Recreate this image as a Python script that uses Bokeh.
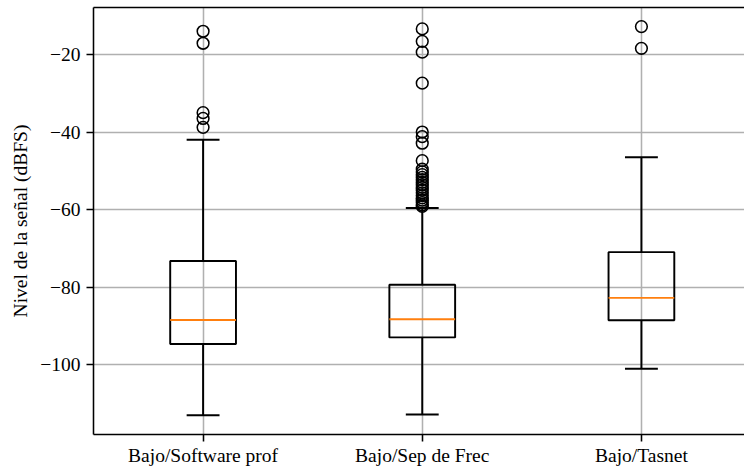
from bokeh.plotting import figure
from bokeh.models import ColumnDataSource, FixedTicker, LinearAxis, Range1d
from bokeh.embed import file_html
from bokeh.resources import INLINE

# ---- data ----
categories = ["Bajo/Software prof", "Bajo/Sep de Frec", "Bajo/Tasnet"]
q1 = [-94.7, -93.0, -88.6]
median = [-88.5, -88.3, -82.8]
q3 = [-73.3, -79.4, -71.0]
whisker_low = [-113.1, -112.9, -101.1]
whisker_high = [-42.0, -59.6, -46.5]
outliers = [
    [-14.0, -17.1, -35.0, -36.5, -38.8],
    [-13.4, -16.6, -19.4, -27.4, -40.0, -41.2, -42.9, -47.4,
     -49.6, -50.3, -51.0, -51.7, -52.3, -53.0, -53.6, -54.3,
     -55.0, -55.7, -56.4, -57.0, -57.6, -58.2, -58.8, -59.2],
    [-12.8, -18.4],
]
y_ticks = [-100, -80, -60, -40, -20]
y_tick_labels = ["\u2212100", "\u221280", "\u221260", "\u221240", "\u221220"]
y_label = "Nivel de la señal (dBFS)"

FONT = "Liberation Serif"
FS = "19.5px"
LW = 1.55
BOX_W = 0.3
CAP_W = 0.15

pos = [i + 1 for i in range(len(categories))]
src = ColumnDataSource(dict(
    pos=pos,
    left=[x - BOX_W / 2 for x in pos],
    right=[x + BOX_W / 2 for x in pos],
    cl=[x - CAP_W / 2 for x in pos],
    cr=[x + CAP_W / 2 for x in pos],
    q1=q1, q3=q3, med=median, lo=whisker_low, hi=whisker_high,
))
ox, oy = [], []
for i, vals in enumerate(outliers):
    for v in vals:
        ox.append(pos[i])
        oy.append(v)
osrc = ColumnDataSource(dict(x=ox, y=oy))

p = figure(width=744, height=468, output_backend="svg", toolbar_location=None,
           x_range=Range1d(0.5, 0.5 + (744 - 93.5) / 219.0),
           y_range=Range1d(-118.06, -7.87),
           min_border_left=93, min_border_right=0, min_border_top=7, min_border_bottom=34)
p.background_fill_color = "white"
p.border_fill_color = "white"
p.outline_line_color = None

# grids
p.xgrid.ticker = FixedTicker(ticks=pos)
p.ygrid.ticker = FixedTicker(ticks=y_ticks)
for g in (p.xgrid, p.ygrid):
    g.grid_line_color = "#b0b0b0"
    g.grid_line_width = LW

# axes
p.xaxis.ticker = FixedTicker(ticks=pos)
p.xaxis.major_label_overrides = {x: c for x, c in zip(pos, categories)}
p.yaxis.ticker = FixedTicker(ticks=y_ticks)
p.yaxis.major_label_overrides = {t: l for t, l in zip(y_ticks, y_tick_labels)}
p.yaxis.axis_label = y_label
for ax in (p.xaxis, p.yaxis):
    ax.axis_line_color = "black"
    ax.axis_line_width = LW
    ax.major_tick_line_color = "black"
    ax.major_tick_line_width = LW
    ax.major_tick_out = 7
    ax.major_tick_in = 0
    ax.minor_tick_line_color = None
    ax.major_label_text_font = FONT
    ax.major_label_text_font_size = FS
    ax.major_label_text_color = "black"
    ax.axis_label_text_font = FONT
    ax.axis_label_text_font_size = FS
    ax.axis_label_text_font_style = "normal"
    ax.axis_label_text_color = "black"
p.xaxis.major_label_standoff = 3
p.yaxis.major_label_standoff = 6
p.yaxis.axis_label_standoff = 6

top = LinearAxis(ticker=FixedTicker(ticks=[]), major_tick_line_color=None,
                 minor_tick_line_color=None, major_label_text_font_size="0px",
                 axis_line_color="black", axis_line_width=LW,
                 major_tick_out=0, major_tick_in=0, major_label_standoff=0)
p.add_layout(top, "above")

# boxes
p.quad(left="left", right="right", bottom="q1", top="q3", source=src,
       fill_alpha=0, line_color="black", line_width=LW * 1.25)
p.segment(x0="pos", x1="pos", y0="q1", y1="lo", source=src, line_color="black", line_width=LW * 1.25)
p.segment(x0="pos", x1="pos", y0="q3", y1="hi", source=src, line_color="black", line_width=LW * 1.25)
p.segment(x0="cl", x1="cr", y0="lo", y1="lo", source=src, line_color="black", line_width=LW * 1.25)
p.segment(x0="cl", x1="cr", y0="hi", y1="hi", source=src, line_color="black", line_width=LW * 1.25)
p.segment(x0="left", x1="right", y0="med", y1="med", source=src, line_color="#ff7f0e", line_width=LW * 1.25)
p.scatter(x="x", y="y", source=osrc, marker="circle", size=11.7,
          fill_alpha=0, line_color="black", line_width=LW)

open("out.html", "w").write(file_html(p, INLINE))
